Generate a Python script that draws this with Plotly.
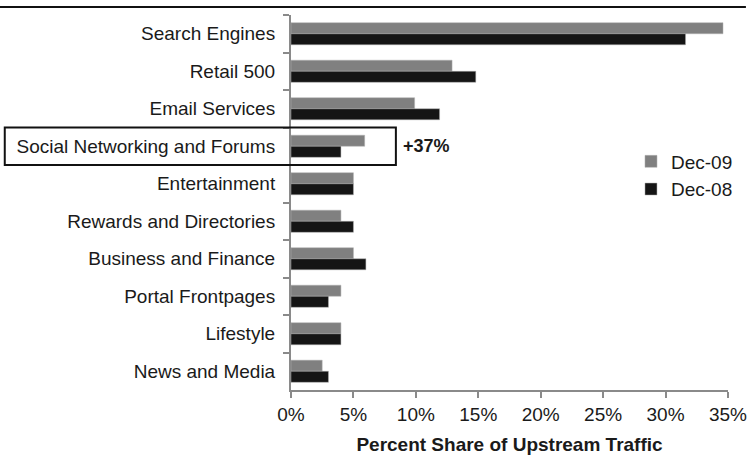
import plotly.graph_objects as go

categories = ["Search Engines", "Retail 500", "Email Services", "Social Networking and Forums",
              "Entertainment", "Rewards and Directories", "Business and Finance",
              "Portal Frontpages", "Lifestyle", "News and Media"]
dec09 = [34.6, 12.9, 9.9, 5.9, 5.0, 4.0, 5.0, 4.0, 4.0, 2.5]
dec08 = [31.6, 14.8, 11.9, 4.0, 5.0, 5.0, 6.0, 3.0, 4.0, 3.0]
x_ticks = [0, 5, 10, 15, 20, 25, 30, 35]
x_ticklabels = [f"{v}%" for v in x_ticks]

FONT = "Liberation Sans, Arial, sans-serif"
TXT = "#1a1a1a"
AX = "#8a8a8a"
FS = 19

fig = go.Figure()
fig.add_trace(go.Bar(y=categories, x=dec09, name="Dec-09", orientation="h",
                     marker=dict(color="#808080", line=dict(color="#b0b0b0", width=0.5))))
fig.add_trace(go.Bar(y=categories, x=dec08, name="Dec-08", orientation="h",
                     marker=dict(color="#151515", line=dict(color="#b0b0b0", width=0.5))))

fig.update_layout(
    width=748, height=455,
    margin=dict(l=291, r=20, t=15, b=65, autoexpand=False),
    paper_bgcolor="white", plot_bgcolor="white",
    barmode="group", bargap=0.41, bargroupgap=0,
    font=dict(family=FONT, size=FS, color=TXT),
    showlegend=True,
    legend=dict(x=0.778, y=0.66, xanchor="left", yanchor="top",
                font=dict(size=FS, color=TXT), bgcolor="rgba(0,0,0,0)",
                itemwidth=30, tracegroupgap=0),
)
fig.update_xaxes(range=[0, 35], tickvals=x_ticks, ticktext=x_ticklabels, automargin=False,
                 showgrid=False, zeroline=False, showline=True, linecolor=AX, linewidth=2,
                 ticks="outside", ticklen=6, tickwidth=2, tickcolor=AX,
                 tickfont=dict(size=FS, color=TXT),
                 title=dict(text="<b>Percent Share of Upstream Traffic</b>",
                            font=dict(size=FS, color=TXT), standoff=14))
fig.update_yaxes(autorange="reversed", showgrid=False, zeroline=False, automargin=False,
                 showline=True, linecolor=AX, linewidth=2,
                 ticks="outside", ticklen=6, tickwidth=2, tickcolor=AX,
                 tickson="boundaries", ticklabelstandoff=10,
                 tickfont=dict(size=FS, color=TXT))

# highlight box around Social Networking and Forums
fig.add_shape(type="rect", xref="paper", yref="y", x0=-0.655, x1=0.24, y0=2.5, y1=3.5,
              line=dict(color="#111111", width=2), fillcolor="rgba(0,0,0,0)", layer="above")
fig.add_annotation(x=0.252, xref="paper", y=3, yref="y", text="<b>+37%</b>",
                   showarrow=False, xanchor="left", yanchor="middle",
                   font=dict(size=FS - 1, color=TXT))
# top rule line
fig.add_shape(type="line", xref="paper", yref="paper", x0=-0.666, x1=1.041, y0=1.0213, y1=1.0213,
              line=dict(color="#111111", width=2))

fig.write_html("out.html")
